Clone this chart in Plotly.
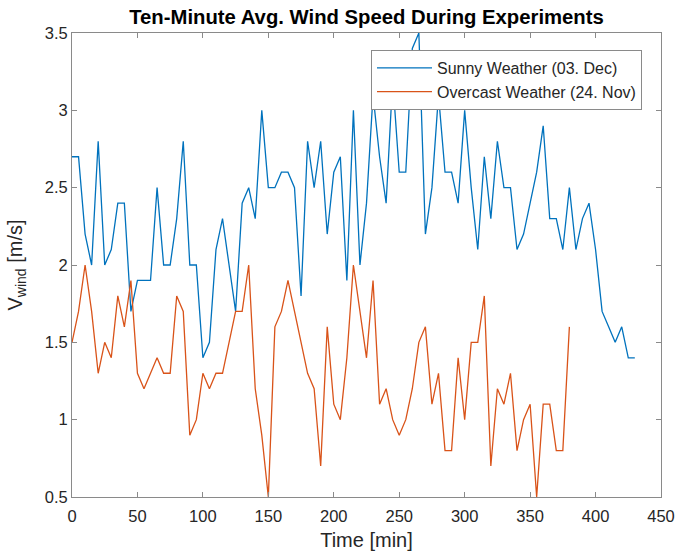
import plotly.graph_objects as go

time_step_min = 5
sunny_speed = [2.7, 2.7, 2.2, 2.0, 2.8, 2.0, 2.1, 2.4, 2.4, 1.7,
               1.9, 1.9, 1.9, 2.5, 2.0, 2.0, 2.3, 2.8, 2.0, 2.0,
               1.4, 1.5, 2.1, 2.3, 2.0, 1.7, 2.4, 2.5, 2.3, 3.0,
               2.5, 2.5, 2.6, 2.6, 2.5, 1.8, 2.8, 2.5, 2.8, 2.2,
               2.6, 2.7, 1.9, 3.0, 2.0, 2.4, 3.1, 2.7, 2.4, 3.2,
               2.6, 2.6, 3.4, 3.5, 2.2, 2.5, 3.1, 2.6, 2.6, 2.4,
               3.0, 2.5, 2.1, 2.7, 2.3, 2.8, 2.5, 2.5, 2.1, 2.2,
               2.4, 2.6, 2.9, 2.3, 2.3, 2.1, 2.5, 2.1, 2.3, 2.4,
               2.1, 1.7, 1.6, 1.5, 1.6, 1.4, 1.4]
overcast_speed = [1.5, 1.7, 2.0, 1.7, 1.3, 1.5, 1.4, 1.8, 1.6, 1.9,
                  1.3, 1.2, 1.3, 1.4, 1.3, 1.3, 1.8, 1.7, 0.9, 1.0,
                  1.3, 1.2, 1.3, 1.3, 1.5, 1.7, 1.7, 2.0, 1.2, 0.9,
                  0.5, 1.6, 1.7, 1.9, 1.7, 1.5, 1.3, 1.2, 0.7, 1.6,
                  1.1, 1.0, 1.4, 2.0, 1.7, 1.4, 1.9, 1.1, 1.2, 1.0,
                  0.9, 1.0, 1.2, 1.5, 1.6, 1.1, 1.3, 0.8, 0.8, 1.4,
                  1.0, 1.5, 1.5, 1.8, 0.7, 1.2, 1.1, 1.3, 0.8, 1.0,
                  1.1, 0.5, 1.1, 1.1, 0.8, 0.8, 1.6]
sunny_time = [i * time_step_min for i in range(len(sunny_speed))]
overcast_time = [i * time_step_min for i in range(len(overcast_speed))]

x_ticks = [0, 50, 100, 150, 200, 250, 300, 350, 400, 450]
y_ticks = [0.5, 1, 1.5, 2, 2.5, 3, 3.5]
y_tick_labels = ["0.5", "1", "1.5", "2", "2.5", "3", "3.5"]

FONT = "Liberation Sans, Arial, Helvetica, sans-serif"
TXT = "#262626"
AX = "#8a8a8a"

W, H = 676, 555

fig = go.Figure()
fig.add_trace(go.Scatter(x=sunny_time, y=sunny_speed, mode="lines",
                         name="Sunny Weather (03. Dec)",
                         line=dict(color="#0072BD", width=1.3)))
fig.add_trace(go.Scatter(x=overcast_time, y=overcast_speed, mode="lines",
                         name="Overcast Weather (24. Nov)",
                         line=dict(color="#D95319", width=1.3)))

fig.update_layout(
    width=W, height=H,
    margin=dict(l=72, r=15, t=33, b=58, autoexpand=False),
    paper_bgcolor="white", plot_bgcolor="white",
    font=dict(family=FONT, size=16.5, color=TXT),
    hovermode=False,
    title=dict(text="<b>Ten-Minute Avg. Wind Speed During Experiments</b>",
               x=0.5, xref="paper", xanchor="center",
               y=1 - 16.5 / H, yref="container", yanchor="middle",
               font=dict(family=FONT, size=20.3, color="#000000")),
    showlegend=True,
    legend=dict(x=(642 - 72) / 589, xanchor="right", y=(497 - 50) / 464, yanchor="top",
                bgcolor="white", bordercolor=AX, borderwidth=1,
                font=dict(family=FONT, size=16, color=TXT),
                tracegroupgap=0, itemwidth=55),
)
fig.update_xaxes(range=[0, 450], tickvals=x_ticks, ticks="inside", ticklen=5,
                 tickcolor=AX, showline=True, linecolor=AX, linewidth=1,
                 mirror="ticks", showgrid=False, zeroline=False, automargin=False,
                 ticklabelstandoff=4,
                 title=dict(text="Time [min]", font=dict(size=20), standoff=9),
                 tickfont=dict(size=16.5, color=TXT))
fig.update_yaxes(range=[0.5, 3.5], tickvals=y_ticks, ticktext=y_tick_labels,
                 ticks="inside", ticklen=5,
                 tickcolor=AX, showline=True, linecolor=AX, linewidth=1,
                 mirror="ticks", showgrid=False, zeroline=False, automargin=False,
                 title=dict(text="V<sub>wind</sub> [m/s]", font=dict(size=20), standoff=16),
                 tickfont=dict(size=16.5, color=TXT))

fig.write_html("out.html",
               config={"displayModeBar": False},
               post_script="document.body.style.margin='0';document.body.style.overflow='hidden';")
